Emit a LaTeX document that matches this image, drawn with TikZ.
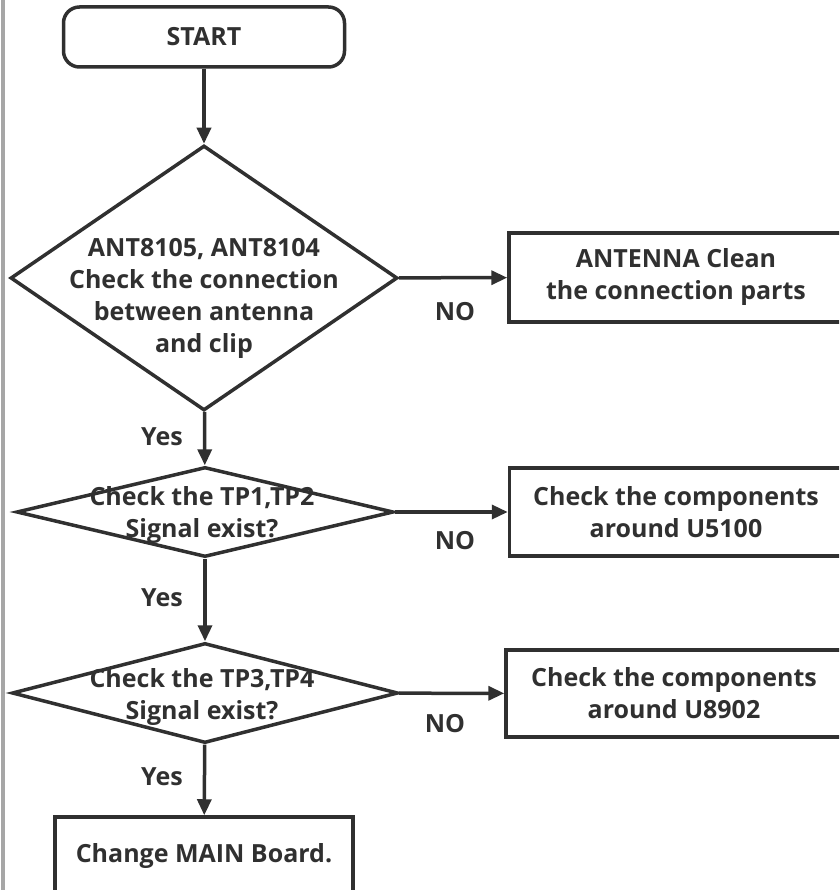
\documentclass[tikz,border=0pt]{standalone}
\usepackage{fontspec}
\setmainfont{Open Sans}
\usetikzlibrary{shapes.geometric, arrows.meta}
\definecolor{ink}{HTML}{303030}

\begin{document}
\begin{tikzpicture}[
    x=1pt, y=-1pt,
    font=\fontsize{25}{32}\selectfont\bfseries,
    every node/.style={text=ink},
    box/.style={draw=ink, line width=3.5pt, rectangle, align=center, inner sep=0pt},
    decision/.style={draw=ink, line width=3.5pt, diamond, inner sep=0pt},
    lbl/.style={align=center, inner sep=0pt},
    arrow/.style={-{Triangle[length=16pt, width=14pt]}, draw=ink, line width=3.5pt}
]
\useasboundingbox (0,0) rectangle (839,890);
\clip (0,0) rectangle (839,890);

% Side bar
\fill[gray!70] (1,0) rectangle (5,890);

% Start
\node[box, rounded corners=16pt, minimum width=281pt, minimum height=60pt] (start) at (204,37) {START};

% Decisions
\node[decision, minimum width=387pt, minimum height=265pt] (dec1) at (204,278) {};
\node[lbl] (dec1txt) at (204,298) {ANT8105, ANT8104\\Check the connection\\between antenna\\and clip};

\node[decision, minimum width=377pt, minimum height=90pt] (dec2) at (205,512) {};
\node[lbl] (dec2txt) at (202,515) {Check the TP1,TP2\\Signal exist?};

\node[decision, minimum width=386pt, minimum height=100pt] (dec3) at (205,693) {};
\node[lbl] (dec3txt) at (202,697) {Check the TP3,TP4\\Signal exist?};

% Actions
\node[box, minimum width=334pt, minimum height=89pt] (act1) at (676,277.5) {ANTENNA Clean\\the connection parts};
\node[box, minimum width=333pt, minimum height=88pt] (act2) at (676,512) {Check the components\\around U5100};
\node[box, minimum width=336pt, minimum height=87pt] (act3) at (674,693.5) {Check the components\\around U8902};
\node[box, minimum width=298pt, minimum height=78pt] (final) at (204,856) {Change MAIN Board.};

% Labels
\node (no1) at (455,312) {NO};
\node (no2) at (455,541) {NO};
\node (no3) at (445,724) {NO};
\node (yes1) at (162,437) {Yes};
\node (yes2) at (162,598) {Yes};
\node (yes3) at (162,777) {Yes};

% Arrows
\draw[arrow] (start) -- (dec1);
\draw[arrow] (dec1) -- (act1);
\draw[arrow] (dec1) -- (dec2);
\draw[arrow] (dec2) -- (act2);
\draw[arrow] (dec2) -- (dec3);
\draw[arrow] (dec3) -- (act3);
\draw[arrow] (dec3) -- (final);

\end{tikzpicture}
\end{document}
